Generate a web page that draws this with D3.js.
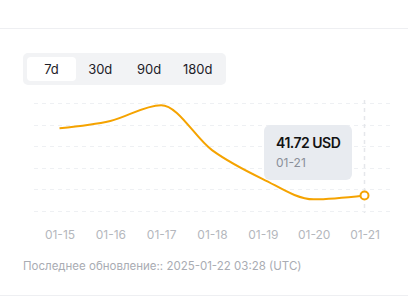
<!DOCTYPE html>
<html>
<head>
<meta charset="utf-8">
<script src="https://cdn.jsdelivr.net/npm/d3@7"></script>
<style>
  html, body { margin: 0; padding: 0; background: #fff; }
  svg { display: block; font-family: Inter, "Noto Sans", sans-serif; }
</style>
</head>
<body>
<svg id="chart" width="408" height="300"></svg>
<script>
// Price history, last 7 days
const dates = ["01-15", "01-16", "01-17", "01-18", "01-19", "01-20", "01-21"];
const prices = [44.83, 45.17, 45.9, 43.82, 42.48, 41.54, 41.72];
const gridValues = [41, 42, 43, 44, 45, 46];
const ranges = ["7d", "30d", "90d", "180d"];
const activeRange = "7d";
const currency = "USD";
const updatedText = "Последнее обновление:: 2025-01-22 03:28 (UTC)";

const svg = d3.select("#chart");
const W = 408;

// Section borders
svg.append("line").attr("x1", 0).attr("x2", W).attr("y1", 28.5).attr("y2", 28.5)
  .attr("stroke", "#eeeff2");
svg.append("line").attr("x1", 0).attr("x2", W).attr("y1", 295.5).attr("y2", 295.5)
  .attr("stroke", "#eeeff2");

// Range switcher
const seg = svg.append("g");
seg.append("rect").attr("x", 23).attr("y", 53).attr("width", 203).attr("height", 32)
  .attr("rx", 5).attr("fill", "#f2f3f5");
const segX = d3.scaleBand().domain(ranges).range([27, 222]).padding(0);
seg.selectAll("rect.btn").data(ranges.filter(r => r === activeRange)).join("rect")
  .attr("class", "btn")
  .attr("x", d => segX(d)).attr("y", 57)
  .attr("width", 49).attr("height", 24).attr("rx", 4).attr("fill", "#fff");
seg.selectAll("text").data(ranges).join("text")
  .attr("x", d => segX(d) + 24.5)
  .attr("y", 74)
  .attr("text-anchor", "middle")
  .attr("font-size", 13)
  .attr("fill", "#1d2129")
  .text(d => d);

// Scales
const x = d3.scalePoint().domain(dates).range([59.5, 364.5]);
const y = d3.scaleLinear().domain([41, 46]).range([211, 103]);

// Horizontal dashed grid
svg.append("g").selectAll("line").data(gridValues).join("line")
  .attr("x1", 34).attr("x2", 390)
  .attr("y1", d => Math.round(y(d)) + 0.5).attr("y2", d => Math.round(y(d)) + 0.5)
  .attr("stroke", "#eef0f3").attr("stroke-width", 1).attr("stroke-dasharray", "4,4");

// Hover guide at the last point
const last = dates.length - 1;
svg.append("line")
  .attr("x1", x(dates[last])).attr("x2", x(dates[last]))
  .attr("y1", 100).attr("y2", 213)
  .attr("stroke", "#e5e7eb").attr("stroke-width", 1.5).attr("stroke-dasharray", "4,4");

// Price line
const line = d3.line()
  .x((d, i) => x(dates[i]))
  .y(d => y(d))
  .curve(d3.curveMonotoneX);
svg.append("path").datum(prices)
  .attr("d", line)
  .attr("fill", "none")
  .attr("stroke", "#f5a300")
  .attr("stroke-width", 2);

// X axis labels
const xAxis = d3.axisBottom(x).tickSize(0).tickPadding(0);
const gx = svg.append("g").attr("transform", "translate(0,230)").call(xAxis);
gx.select(".domain").remove();
gx.selectAll("text")
  .attr("font-family", "Inter, 'Noto Sans', sans-serif")
  .attr("font-size", 12)
  .attr("fill", "#b4b7bd");

// Tooltip
const tip = svg.append("g");
tip.append("rect").attr("x", 264).attr("y", 125).attr("width", 88).attr("height", 55)
  .attr("rx", 6).attr("fill", "#e8ebf0");
tip.append("text").attr("x", 276).attr("y", 148)
  .attr("font-size", 14).attr("font-weight", 600).attr("fill", "#121212")
  .attr("letter-spacing", -0.5)
  .text(prices[last].toFixed(2) + " " + currency);
tip.append("text").attr("x", 276).attr("y", 167)
  .attr("font-size", 12).attr("fill", "#8a8f99")
  .text(dates[last]);

// Highlighted point
svg.append("circle")
  .attr("cx", x(dates[last])).attr("cy", y(prices[last]))
  .attr("r", 4)
  .attr("fill", "#fff").attr("stroke", "#f5a300").attr("stroke-width", 2);

// Footer
svg.append("text").attr("x", 23).attr("y", 270)
  .attr("font-size", 11.5).attr("fill", "#a9acb3")
  .text(updatedText);
</script>
</body>
</html>
